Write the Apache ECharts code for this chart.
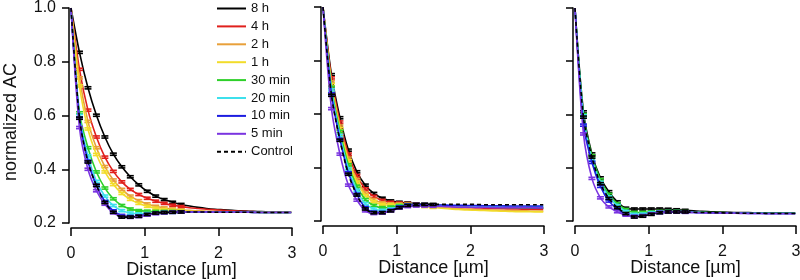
<!DOCTYPE html>
<html>
<head>
<meta charset="utf-8">
<script src="https://cdn.jsdelivr.net/npm/echarts@6/dist/echarts.min.js"></script>
<style>
html,body{margin:0;padding:0;background:#fff;}
#c{width:800px;height:280px;}
</style>
</head>
<body>
<div id="c"></div>
<script>
// ---- data ----
const X = [0,0.115,0.23,0.345,0.46,0.575,0.69,0.805,0.92,1.035,1.15,1.265,1.38,1.495,1.61,1.725,1.84,1.955,2.07,2.185,2.3,2.415,2.53,2.645,2.76,2.875,2.99];
const X_TICKS = [0,1,2,3];
const Y_TICKS = [0.2,0.4,0.6,0.8,1.0];
const ERR = 0.004;
const N_ERR = 14;

// panel 1
const p1_h8  = [1.0,0.835,0.703,0.601,0.52,0.456,0.409,0.372,0.342,0.318,0.3,0.287,0.277,0.269,0.263,0.258,0.254,0.251,0.249,0.247,0.245,0.244,0.243,0.242,0.241,0.240,0.240];
const p1_h4  = [1.0,0.772,0.62,0.52,0.445,0.392,0.353,0.325,0.306,0.292,0.281,0.273,0.266,0.261,0.257,0.254,0.251,0.249,0.247,0.245,0.244,0.243,0.242,0.241,0.241,0.240,0.240];
const p1_h2  = [1.0,0.74,0.578,0.48,0.41,0.36,0.325,0.3,0.283,0.271,0.262,0.256,0.252,0.249,0.247,0.245,0.244,0.243,0.242,0.241,0.241,0.240,0.240,0.240,0.239,0.239,0.239];
const p1_h1  = [1.0,0.71,0.55,0.455,0.39,0.343,0.31,0.288,0.273,0.262,0.255,0.25,0.247,0.245,0.244,0.243,0.242,0.241,0.241,0.240,0.240,0.240,0.239,0.239,0.239,0.239,0.239];
const p1_m30 = [1.0,0.61,0.48,0.39,0.33,0.29,0.265,0.252,0.246,0.244,0.243,0.243,0.243,0.242,0.242,0.242,0.241,0.241,0.241,0.240,0.240,0.240,0.240,0.239,0.239,0.239,0.239];
const p1_m20 = [1.0,0.6,0.45,0.355,0.3,0.265,0.246,0.237,0.234,0.235,0.237,0.239,0.240,0.241,0.241,0.241,0.241,0.240,0.240,0.240,0.240,0.240,0.239,0.239,0.239,0.239,0.239];
const p1_m10 = [1.0,0.59,0.43,0.34,0.28,0.245,0.228,0.224,0.226,0.231,0.236,0.239,0.240,0.241,0.241,0.241,0.241,0.240,0.240,0.240,0.240,0.240,0.239,0.239,0.239,0.239,0.239];
const p1_m5  = [1.0,0.555,0.4,0.32,0.27,0.238,0.224,0.221,0.224,0.23,0.235,0.238,0.240,0.241,0.241,0.241,0.241,0.240,0.240,0.240,0.240,0.240,0.239,0.239,0.239,0.239,0.239];
const p1_ctl = [1.0,0.59,0.427,0.34,0.276,0.24,0.222,0.222,0.225,0.232,0.237,0.239,0.240,0.241,0.241,0.241,0.241,0.240,0.240,0.240,0.240,0.240,0.240,0.239,0.239,0.239,0.239];

// panel 2
const p2_h8  = [1.0,0.747,0.586,0.465,0.384,0.334,0.303,0.285,0.275,0.27,0.267,0.264,0.262,0.26,0.258,0.256,0.255,0.254,0.253,0.252,0.251,0.25,0.25,0.249,0.249,0.248,0.248];
const p2_h4  = [1.0,0.735,0.57,0.45,0.37,0.32,0.292,0.277,0.27,0.267,0.265,0.262,0.259,0.257,0.255,0.253,0.251,0.25,0.249,0.248,0.247,0.246,0.245,0.245,0.244,0.244,0.243];
const p2_h2  = [1.0,0.72,0.555,0.435,0.355,0.305,0.28,0.268,0.264,0.263,0.262,0.259,0.256,0.253,0.25,0.248,0.246,0.244,0.243,0.242,0.241,0.24,0.239,0.238,0.238,0.237,0.237];
const p2_h1  = [1.0,0.71,0.545,0.425,0.345,0.295,0.272,0.262,0.26,0.261,0.261,0.258,0.254,0.251,0.248,0.245,0.243,0.241,0.24,0.239,0.238,0.237,0.236,0.235,0.235,0.234,0.234];
const p2_m30 = [1.0,0.70,0.535,0.41,0.33,0.28,0.258,0.25,0.252,0.258,0.261,0.26,0.259,0.258,0.257,0.256,0.255,0.254,0.253,0.252,0.252,0.251,0.251,0.25,0.25,0.25,0.25];
const p2_m20 = [1.0,0.69,0.52,0.395,0.315,0.265,0.245,0.24,0.245,0.254,0.26,0.261,0.26,0.259,0.258,0.257,0.256,0.256,0.255,0.255,0.254,0.254,0.254,0.253,0.253,0.253,0.253];
const p2_m10 = [1.0,0.675,0.505,0.38,0.3,0.25,0.233,0.232,0.24,0.252,0.259,0.261,0.261,0.26,0.26,0.259,0.259,0.258,0.258,0.257,0.257,0.257,0.256,0.256,0.256,0.256,0.256];
const p2_m5  = [1.0,0.62,0.45,0.334,0.278,0.238,0.228,0.23,0.238,0.248,0.254,0.256,0.256,0.255,0.254,0.253,0.252,0.252,0.251,0.251,0.25,0.25,0.25,0.25,0.25,0.249,0.249];
const p2_ctl = [1.0,0.67,0.502,0.375,0.297,0.245,0.231,0.231,0.238,0.25,0.258,0.261,0.262,0.262,0.262,0.262,0.262,0.262,0.262,0.261,0.261,0.261,0.261,0.261,0.261,0.261,0.261];

// panel 3
const p3_h8  = [1.0,0.61,0.452,0.362,0.31,0.272,0.248,0.245,0.245,0.245,0.245,0.244,0.242,0.240,0.238,0.236,0.235,0.234,0.233,0.232,0.232,0.231,0.231,0.230,0.230,0.230,0.230];
const p3_m30 = [1.0,0.60,0.445,0.355,0.3,0.265,0.243,0.232,0.232,0.234,0.236,0.236,0.236,0.235,0.234,0.233,0.232,0.232,0.231,0.231,0.230,0.230,0.230,0.229,0.229,0.229,0.229];
const p3_m20 = [1.0,0.595,0.43,0.345,0.29,0.258,0.236,0.225,0.226,0.231,0.234,0.235,0.235,0.234,0.233,0.232,0.231,0.231,0.230,0.230,0.229,0.229,0.229,0.228,0.228,0.228,0.228];
const p3_m10 = [1.0,0.56,0.42,0.33,0.275,0.245,0.226,0.217,0.22,0.227,0.232,0.234,0.234,0.233,0.232,0.231,0.231,0.230,0.230,0.229,0.229,0.228,0.228,0.228,0.228,0.228,0.228];
const p3_m5  = [1.0,0.527,0.36,0.287,0.253,0.235,0.222,0.217,0.22,0.227,0.232,0.234,0.234,0.233,0.232,0.231,0.230,0.230,0.229,0.229,0.228,0.228,0.228,0.227,0.227,0.227,0.227];
const p3_ctl = [1.0,0.59,0.44,0.34,0.285,0.25,0.228,0.215,0.218,0.225,0.231,0.234,0.234,0.234,0.233,0.232,0.231,0.231,0.230,0.230,0.229,0.229,0.229,0.228,0.228,0.228,0.228];

const NAMES = ['8 h','4 h','2 h','1 h','30 min','20 min','10 min','5 min','Control'];
const PANELS = [
  {'8 h':p1_h8,'4 h':p1_h4,'2 h':p1_h2,'1 h':p1_h1,'30 min':p1_m30,'20 min':p1_m20,'10 min':p1_m10,'5 min':p1_m5,'Control':p1_ctl},
  {'8 h':p2_h8,'4 h':p2_h4,'2 h':p2_h2,'1 h':p2_h1,'30 min':p2_m30,'20 min':p2_m20,'10 min':p2_m10,'5 min':p2_m5,'Control':p2_ctl},
  {'8 h':p3_h8,'30 min':p3_m30,'20 min':p3_m20,'10 min':p3_m10,'5 min':p3_m5,'Control':p3_ctl}
];

// ---- styles ----
const STYLE = {
  '8 h':   {color:'#000000', type:'solid'},
  '4 h':   {color:'#e0201c', type:'solid'},
  '2 h':   {color:'#e8a03a', type:'solid'},
  '1 h':   {color:'#f2dc2a', type:'solid'},
  '30 min':{color:'#2ed02a', type:'solid'},
  '20 min':{color:'#3ee0ec', type:'solid'},
  '10 min':{color:'#1c1ce0', type:'solid'},
  '5 min': {color:'#7a34e0', type:'solid'},
  'Control':{color:'#000000', type:[4,3]}
};
const FONT = 'Liberation Sans, Arial, Helvetica, sans-serif';
const GRIDS = [
  {left:71, top:8, width:221, height:215},
  {left:323, top:7, width:221, height:214},
  {left:575, top:8, width:221, height:213}
];

const grid = [], xAxis = [], yAxis = [], series = [];
GRIDS.forEach((g, gi) => {
  grid.push(Object.assign({containLabel:false, outerBoundsMode:'none'}, g));
  xAxis.push({
    type:'value', gridIndex:gi, min:0, max:3, interval:1, offset:5,
    name:'Distance [µm]', nameLocation:'middle', nameGap:33, nameMoveOverlap:false,
    nameTextStyle:{fontFamily:FONT, fontSize:18, color:'#111'},
    axisLine:{show:true, onZero:false, lineStyle:{color:'#000', width:1.5}},
    axisTick:{show:true, length:8, lineStyle:{color:'#000', width:1.5}},
    axisLabel:{show:true, margin:18, fontFamily:FONT, fontSize:16, color:'#111'},
    splitLine:{show:false}
  });
  yAxis.push({
    type:'value', gridIndex:gi, min:0.2, max:1.0, interval:0.2, offset:2,
    axisLine:{show:true, onZero:false, lineStyle:{color:'#000', width:1.5}},
    axisTick:{show:true, length:7, lineStyle:{color:'#000', width:1.5}},
    axisLabel:{show:gi===0, margin:13, fontFamily:FONT, fontSize:16, color:'#111',
      formatter: v => (Math.round(v*10)/10).toFixed(1)},
    splitLine:{show:false}
  });
  const panel = PANELS[gi];
  NAMES.forEach((name, ni) => {
    const arr = panel[name];
    if (!arr) return;
    const st = STYLE[name];
    series.push({
      type:'line', name:name, xAxisIndex:gi, yAxisIndex:gi,
      data: X.map((x,i)=>[x, arr[i]]),
      smooth:0.3, symbol:'none', showSymbol:false,
      lineStyle:{color:st.color, width:1.6, type:st.type},
      itemStyle:{color:st.color},
      z: 2 + ni*0.01, silent:true
    });
    const errData = [];
    for (let i = 1; i < N_ERR; i++) errData.push([X[i], arr[i]-ERR, arr[i]+ERR]);
    series.push({
      type:'custom', name:name+'_err', xAxisIndex:gi, yAxisIndex:gi,
      data: errData, z: 2 + ni*0.01, silent:true,
      renderItem: (params, api) => {
        const x = api.value(0);
        const lo = api.coord([x, api.value(1)]);
        const hi = api.coord([x, api.value(2)]);
        const w = 3.5;
        const s = {stroke:st.color, lineWidth:1.6};
        return {type:'group', children:[
          {type:'line', shape:{x1:lo[0], y1:lo[1], x2:hi[0], y2:hi[1]}, style:s},
          {type:'line', shape:{x1:lo[0]-w, y1:lo[1], x2:lo[0]+w, y2:lo[1]}, style:s},
          {type:'line', shape:{x1:hi[0]-w, y1:hi[1], x2:hi[0]+w, y2:hi[1]}, style:s}
        ]};
      }
    });
  });
});

const chart = echarts.init(document.getElementById('c'), null, {renderer:'canvas'});
chart.setOption({
  animation:false,
  backgroundColor:'#fff',
  grid, xAxis, yAxis, series,
  legend:{
    data:NAMES, orient:'vertical', left:216, top:2, padding:0,
    itemWidth:29, itemHeight:14, itemGap:4.9,
    itemStyle:{opacity:0},
    textStyle:{fontFamily:FONT, fontSize:13, color:'#111'},
    selectedMode:false
  },
  graphic:[{
    type:'text', x:11, y:122, rotation:Math.PI/2,
    style:{text:'normalized AC', fontFamily:FONT, fontSize:18, fill:'#111',
      align:'center', verticalAlign:'middle'}
  }]
});
</script>
</body>
</html>
